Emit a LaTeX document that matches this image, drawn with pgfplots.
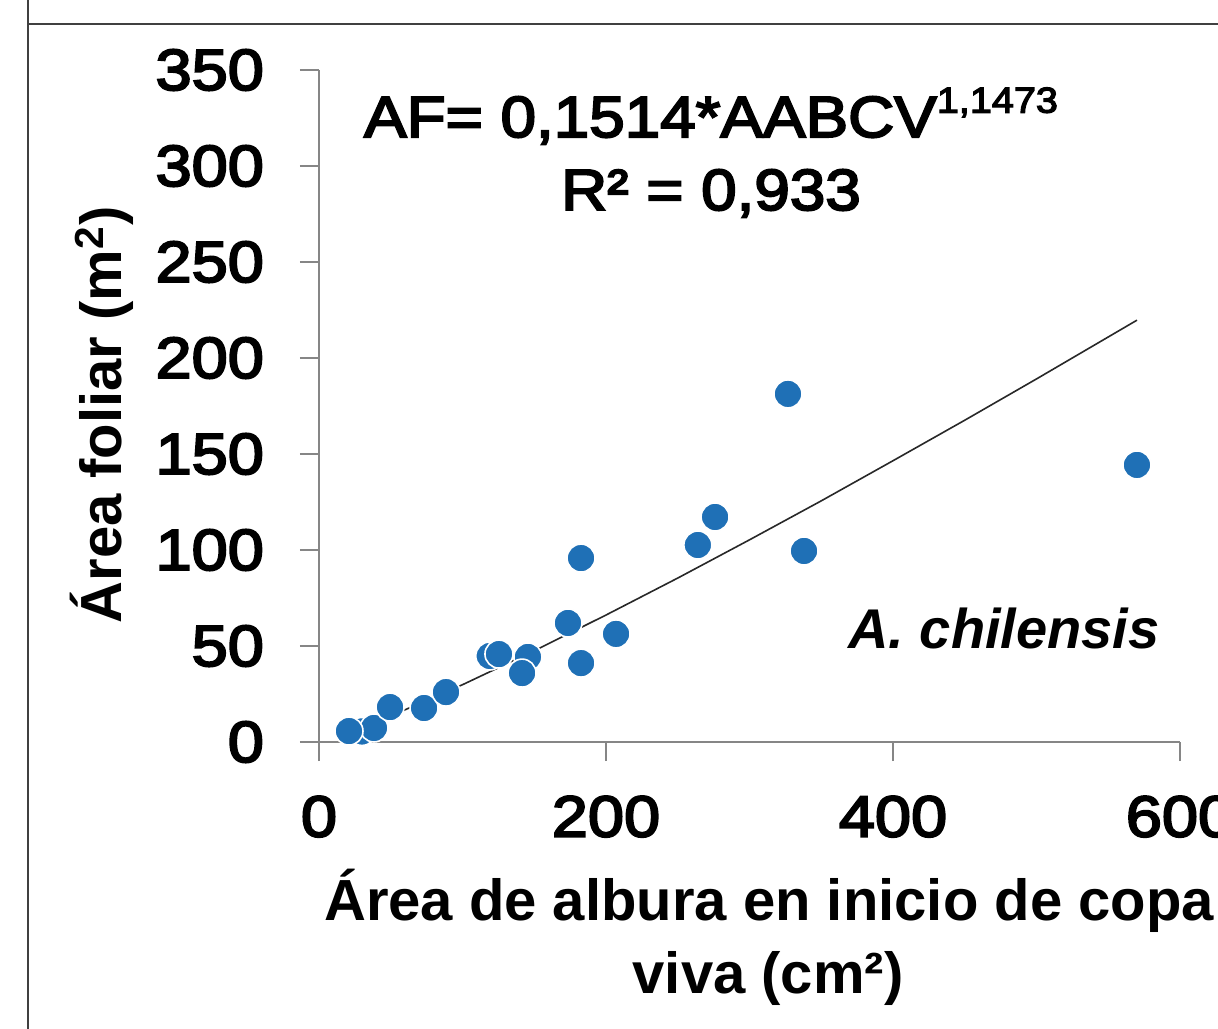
\documentclass[border=0pt]{standalone}
\usepackage{fontspec}
\setmainfont{Liberation Sans}
\newfontfamily\eqfont{Liberation Sans}[FakeStretch=1.1, FakeBold=3.5]
\newfontfamily\tickfont{Liberation Sans}[FakeStretch=1.12, FakeBold=3.5]
\usepackage{pgfplots}
\pgfplotsset{compat=1.18}
\definecolor{mblue}{RGB}{31,112,182}
\definecolor{axgray}{RGB}{134,134,134}
\definecolor{framec}{RGB}{64,64,64}
\definecolor{trend}{RGB}{40,40,40}
\begin{document}
\begin{tikzpicture}
\begin{axis}[
  at={(0pt,0pt)}, anchor=south west,
  scale only axis, width=430.5pt, height=336pt,
  xmin=0, xmax=600, ymin=0, ymax=350,
  axis x line=bottom, axis y line=left,
  axis line style={-, draw=axgray, line width=0.8pt},
  xtick={0,200,400,600}, ytick={0,50,...,350},
  tick align=outside, major tick length=9.5pt,
  tick style={draw=axgray, line width=0.8pt},
  ticklabel style={font=\fontsize{29}{29}\tickfont},
  xticklabel style={yshift=-14pt},
  yticklabel style={xshift=-14.5pt},
  /pgf/number format/assume math mode=true,
  clip=false,
]
\addplot[only marks, mark=*, mark size=7pt, mark options={fill=mblue, draw=white, line width=0.8pt}] coordinates {
 (30,5.5) (38.3,7.3) (20.9,5.7) (49.5,18.2) (73.2,17.7) (88.5,26) (119,44.8) (125.4,45.8)
 (145.6,44.3) (141.5,35.9) (173.5,62) (182.6,41.1) (182.6,95.8) (207,56.3)
 (264,102.6) (276,117.2) (326.8,181.3) (338,99.5) (570,144.3)
};
\addplot[trend, line width=0.8pt] coordinates {
 (20.9,4.96) (35,8.71) (50,13.47) (75,21.74) (100,29.84) (150,47.52) (200,66.13)
 (250,85.39) (300,105.3) (350,125.6) (400,146.5) (450,167.6) (500,189.1) (570,219.7)
};
\node[anchor=base, font=\fontsize{29}{29}\eqfont] at (axis description cs:0.4553,0.9003)
  {AF= 0,1514*AABCV\raisebox{0.42em}{\fontsize{18}{18}\selectfont 1,1473}};
\node[anchor=base, font=\fontsize{29}{29}\eqfont] at (axis description cs:0.4553,0.7917)
  {R² = 0,933};
\node[anchor=base west, inner sep=0pt, font=\fontsize{28}{28}\selectfont\bfseries\itshape] at (axis description cs:0.6144,0.1399)
  {A. chilensis};
\node[anchor=base, rotate=90, font=\fontsize{29}{29}\selectfont\bfseries] at (axis description cs:-0.2288,0.4866)
  {Área foliar (m\textsuperscript{2})};
\node[anchor=base, font=\fontsize{29}{29}\selectfont\bfseries] at (axis description cs:0.5226,-0.2649)
  {Área de albura en inicio de copa};
\node[anchor=base, font=\fontsize{29}{29}\selectfont\bfseries] at (axis description cs:0.5215,-0.3735)
  {viva (cm²)};
\end{axis}
\draw[framec, line width=1pt] (-145.5pt,-200pt) -- (-145.5pt,400pt);
\draw[framec, line width=1pt] (-145.5pt,359pt) -- (500pt,359pt);
\pgfresetboundingbox
\path[use as bounding box] (-159.5pt,-143pt) rectangle (449.5pt,371pt);
\end{tikzpicture}
\end{document}
